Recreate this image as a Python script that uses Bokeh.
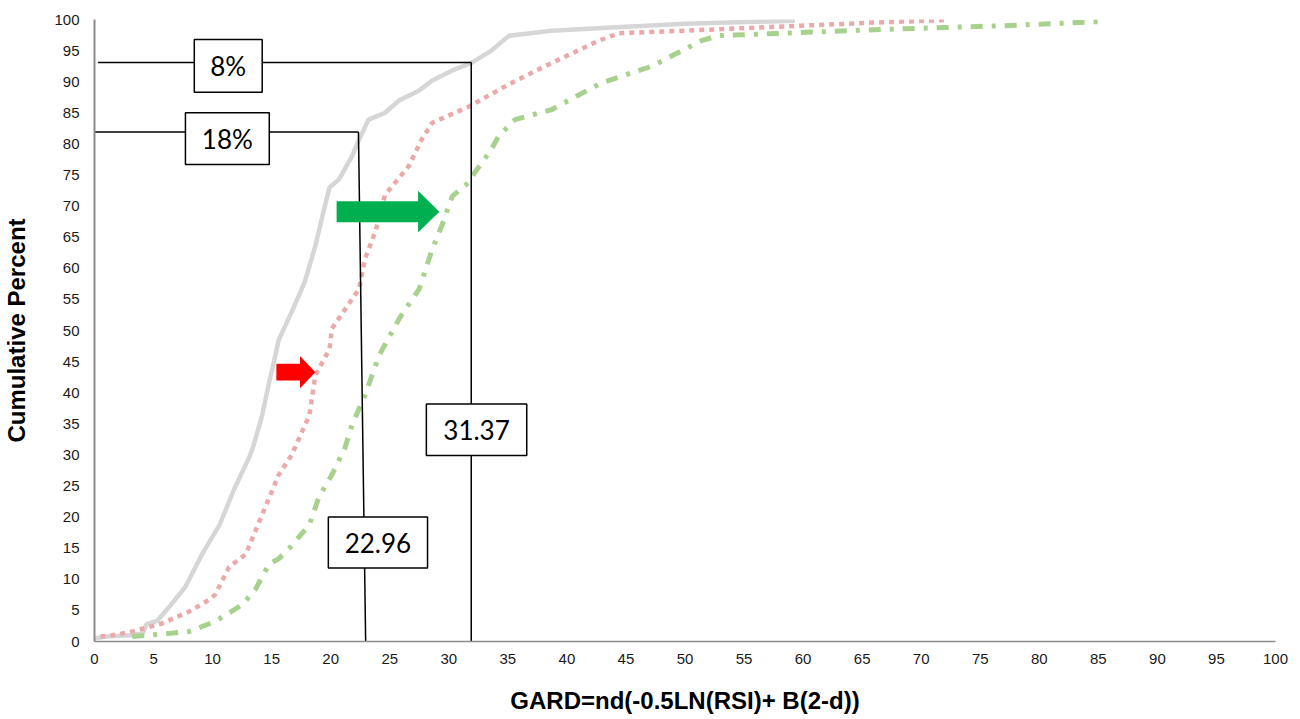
from bokeh.plotting import figure
from bokeh.models import Range1d, FixedTicker
from bokeh.core.properties import value
from bokeh.embed import file_html
from bokeh.resources import INLINE

# ---- data ----
grey_x = [0, 1, 3, 4.1, 4.4, 5.3, 6.3, 7.7, 9.1, 10.6, 11.9, 13.1, 13.4, 14.2, 14.8, 15.2, 15.6,
          16.7, 17.8, 18.7, 19.3, 19.9, 20.7, 21.8, 22.4, 23.2, 24.6, 25.8, 27.5, 28.6, 30.3,
          32.0, 33.6, 35.1, 38.7, 44.6, 50.0, 59.3]
grey_y = [0.5, 0.8, 1.0, 1.3, 2.8, 3.3, 5.5, 8.8, 14.0, 18.8, 24.8, 29.6, 31.1, 36.4, 41.8, 45.0, 48.5,
          53.0, 57.8, 63.6, 68.4, 73.0, 74.3, 78.0, 80.7, 83.9, 85.0, 87.0, 88.6, 90.2, 91.8,
          93.1, 95.0, 97.4, 98.2, 98.8, 99.3, 99.8]

pink_x = [0.5, 1.5, 3.0, 5.7, 8.0, 9.7, 10.2, 11.4, 12.8, 14.2, 15.6, 16.7, 18.2, 18.7, 19.9, 20.1,
          22.4, 22.9, 23.8, 24.6, 26.6, 27.7, 28.6, 31.7, 35.3, 38.7, 42.7, 44.4, 50.0, 59.8, 66.0, 72.0]
pink_y = [0.8, 1.0, 1.5, 2.9, 4.8, 6.7, 7.5, 12.0, 14.0, 20.4, 26.8, 30.0, 36.4, 42.8, 47.0, 50.3,
          56.7, 61.5, 66.0, 71.8, 76.4, 80.7, 83.4, 86.0, 89.8, 93.0, 96.6, 97.8, 98.2, 99.0, 99.5, 99.9]

green_x = [3.2, 5.7, 8.0, 10.2, 12.5, 13.6, 14.8, 15.6, 16.5, 18.2, 19.0, 20.1, 21.2, 21.8, 22.9,
           24.1, 25.8, 27.5, 28.6, 29.4, 30.0, 30.3, 31.7, 32.2, 33.6, 34.2, 35.6, 38.7, 42.9,
           47.2, 51.4, 52.8, 59.8, 68.3, 77.0, 85.6]
green_y = [0.8, 1.2, 1.6, 3.2, 5.9, 8.3, 12.5, 13.3, 15.0, 18.8, 23.2, 26.8, 31.1, 34.8, 39.6,
           46.0, 51.9, 56.7, 63.1, 66.8, 70.0, 71.6, 73.8, 75.4, 79.1, 81.2, 83.9, 85.5, 89.8,
           92.5, 96.6, 97.4, 97.9, 98.5, 99.0, 99.7]

tick_values = list(range(0, 101, 5))
x_title = "GARD=nd(-0.5LN(RSI)+ B(2-d))"
y_title = "Cumulative Percent"

# reference lines: (x0, y0, x1, y1)
ref_x0 = [0.0, 0.3, 22.35, 31.9]
ref_y0 = [81.9, 93.1, 81.9, 93.1]
ref_x1 = [22.35, 31.9, 22.96, 31.9]
ref_y1 = [81.9, 93.1, 0.0, 0.0]

# label boxes
box_text = ["8%", "18%", "22.96", "31.37"]
box_left = [8.45, 7.7, 19.8, 28.1]
box_right = [14.2, 14.8, 28.2, 36.6]
box_bottom = [88.3, 76.7, 11.8, 29.9]
box_top = [96.8, 85.0, 20.0, 38.2]

# arrows: tail x, head-start x, tip x, centre y, body half-height, head half-height
arrow_tail = [15.4, 20.5]
arrow_neck = [17.4, 27.4]
arrow_tip = [18.7, 29.2]
arrow_cy = [43.3, 69.1]
arrow_bh = [1.35, 1.68]
arrow_hh = [2.6, 3.35]
arrow_color = ["#ff0000", "#00b050"]

# ---- figure ----
p = figure(width=1292, height=716, output_backend="svg", toolbar_location=None,
           x_range=Range1d(0, 100), y_range=Range1d(0, 100),
           min_border_left=92, min_border_right=17, min_border_top=19, min_border_bottom=71)
p.outline_line_color = None
p.grid.visible = False
p.background_fill_color = "white"

for ax in (p.xaxis[0], p.yaxis[0]):
    ax.ticker = FixedTicker(ticks=tick_values)
    ax.major_tick_line_color = None
    ax.minor_tick_line_color = None
    ax.axis_line_color = "#8c8c8c"
    ax.major_label_text_font = "Liberation Sans"
    ax.major_label_text_font_size = "15px"
    ax.major_label_text_color = "#1a1a1a"
    ax.axis_label_text_font = "Liberation Sans"
    ax.axis_label_text_font_size = "24px"
    ax.axis_label_text_font_style = "bold"
    ax.axis_label_text_color = "#000000"

p.xaxis.axis_label = x_title
p.yaxis.axis_label = y_title
p.xaxis.axis_line_width = 1.5
p.yaxis.axis_line_width = 2
p.xaxis.major_label_standoff = 6
p.yaxis.major_label_standoff = 9
p.xaxis.axis_label_standoff = 20
p.yaxis.axis_label_standoff = 21

# curves
p.line(grey_x, grey_y, line_color="#d6d6d6", line_width=4.5)
p.line(pink_x, pink_y, line_color="#eba9a9", line_width=4.5, line_dash="5 5")
p.line(green_x, green_y, line_color="#a9d18e", line_width=5, line_dash="12 9 4 9")

# reference lines
p.segment(ref_x0, ref_y0, ref_x1, ref_y1, line_color="black", line_width=1.5)

# arrows
axs, ays = [], []
for t, n, tp, cy, bh, hh in zip(arrow_tail, arrow_neck, arrow_tip, arrow_cy, arrow_bh, arrow_hh):
    axs.append([t, n, n, tp, n, n, t])
    ays.append([cy - bh, cy - bh, cy - hh, cy, cy + hh, cy + bh, cy + bh])
p.patches(axs, ays, fill_color=arrow_color, line_color=None)

# label boxes
p.quad(left=box_left, right=box_right, bottom=box_bottom, top=box_top,
       fill_color="white", line_color="black", line_width=1.5)
cx = [(a + b) / 2 for a, b in zip(box_left, box_right)]
cy = [(a + b) / 2 for a, b in zip(box_bottom, box_top)]
p.text(cx, cy, text=box_text, text_align="center", text_baseline="middle",
       text_font=value("Lato"), text_font_size="26px", text_color="black")

open("out.html", "w").write(file_html(p, INLINE))
